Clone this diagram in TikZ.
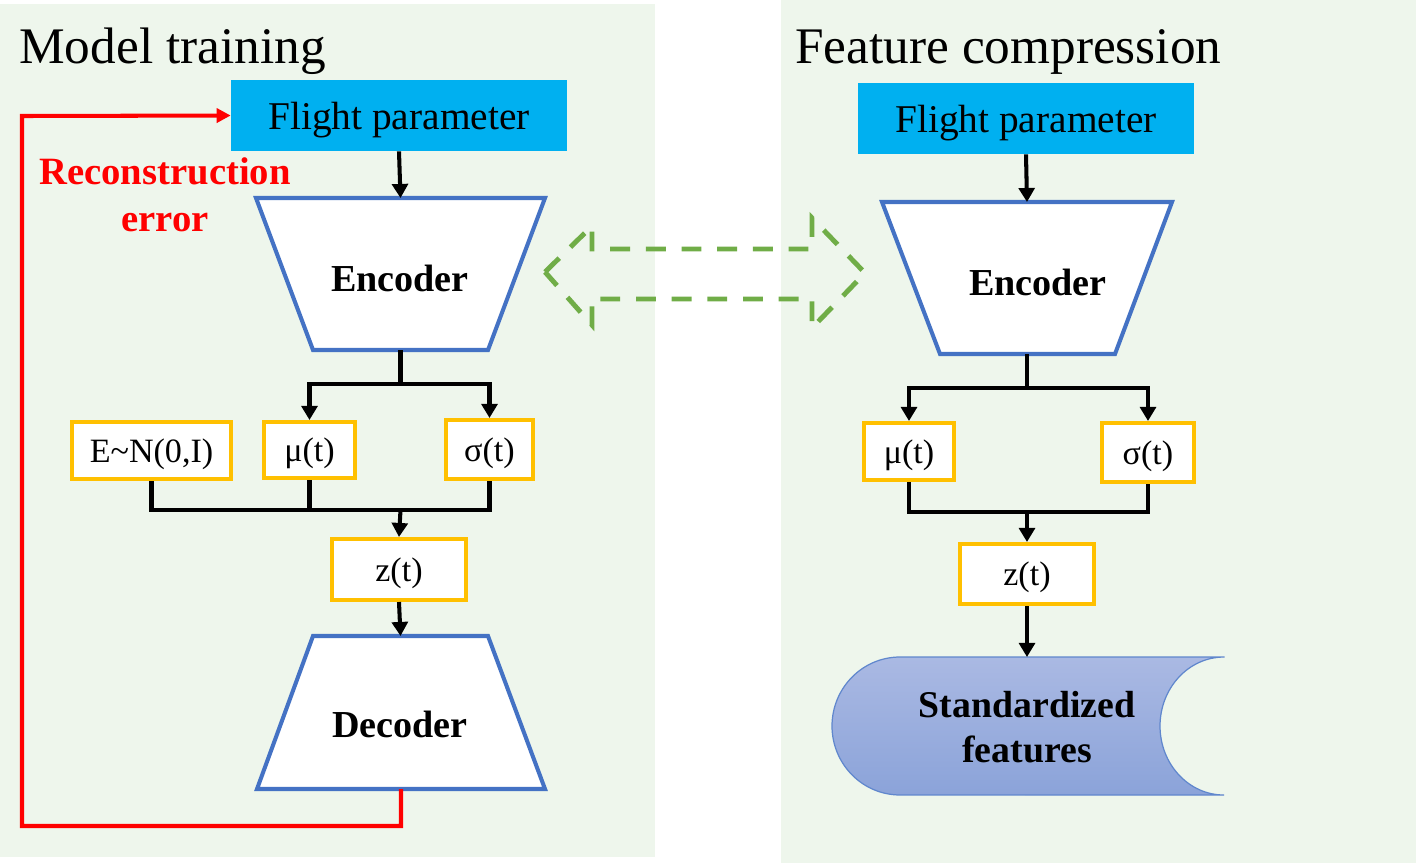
\documentclass[tikz,border=0pt]{standalone}
\usepackage{fontspec}
\setmainfont{Liberation Serif}
\usetikzlibrary{arrows.meta}
\definecolor{bgg}{HTML}{EEF6EC}
\definecolor{fpblue}{HTML}{00B0F0}
\definecolor{encblue}{HTML}{4472C4}
\definecolor{boxor}{HTML}{FFC000}
\definecolor{dgreen}{HTML}{70AD47}
\definecolor{sftop}{HTML}{AAB9E3}
\definecolor{sfbot}{HTML}{8BA3D9}
\begin{document}
\begin{tikzpicture}[x=0.02cm,y=-0.02cm,
  fpbox/.style={fill=fpblue, minimum width=6.72cm, minimum height=1.42cm, inner sep=0pt, text depth=0pt, font=\fontsize{22.4pt}{26pt}\selectfont},
  obox/.style={draw=boxor, line width=2.3pt, fill=white, inner sep=0pt, text depth=0pt, font=\fontsize{19.4pt}{22pt}\selectfont},
  trap/.style={draw=encblue, line width=2.3pt, fill=white},
  traptext/.style={font=\fontsize{21.7pt}{25pt}\selectfont\bfseries},
  conn/.style={line width=2.3pt, black},
  arr/.style={-{Triangle[length=8pt,width=9pt]}},
  title/.style={anchor=base west, inner sep=0pt, font=\fontsize{29.2pt}{34pt}\selectfont}
]
\useasboundingbox (0,0) rectangle (1416,863);
\fill[bgg] (0,4) rectangle (655,857);
\fill[bgg] (781,0) rectangle (1416,863);

% titles
\node[title] (t1) at (19,63) {Model training};
\node[title] (t2) at (795,63) {Feature compression};

% ---------- left ----------
\node[fpbox] (fp1) at (399,115.5) {Flight parameter};
\draw[trap] (256,198) -- (545,198) -- (488,350) -- (313,350) -- cycle;
\coordinate (enc1t) at (400.5,198);
\coordinate (enc1b) at (400.5,350);
\node[traptext] (enc1) at (400,278) {Encoder};

\node[obox, minimum width=3.18cm, minimum height=1.14cm] (E1) at (151.5,450.5) {E\char"007E N(0,I)};
\node[obox, minimum width=1.82cm, minimum height=1.12cm] (mu1) at (309.5,450) {μ(t)};
\node[obox, minimum width=1.74cm, minimum height=1.18cm] (sig1) at (489.5,449.5) {σ(t)};
\node[obox, minimum width=2.68cm, minimum height=1.22cm] (z1) at (399,569.5) {z(t)};

\draw[trap] (313,636) -- (488,636) -- (545,789) -- (257,789) -- cycle;
\coordinate (dec1t) at (400.5,636);
\coordinate (dec1b) at (401,789);
\node[traptext] (dec1) at (400,724) {Decoder};

\draw[conn,arr] (fp1.south) -- (enc1t);
\coordinate (s1) at (400.5,384);
\draw[conn] (enc1b) -- (s1);
\draw[conn,arr] (s1) -| (mu1.north);
\draw[conn,arr] (s1) -| (sig1.north);
\coordinate (j1) at (400.5,510);
\draw[conn] (E1.south) |- (j1) -| (sig1.south);
\draw[conn] (mu1.south) -- (mu1.south |- j1);
\draw[conn,arr] (j1) -- (z1.north);
\draw[conn,arr] (z1.south) -- (dec1t);

\draw[red, line width=2.3pt, -{Triangle[length=8pt,width=8pt]}] (dec1b) -- (401,826) -| (22,116) -- (fp1.west);
\node[red, align=center, font=\fontsize{22pt}{26.6pt}\selectfont\bfseries] (rec) at (165,194.5) {Reconstruction\\error};

% ---------- green dashed double arrow ----------
\draw[dgreen, line width=2.8pt, dash pattern=on 11.3pt off 9pt, line join=miter]
  (545,272) -- (592,226) -- (592,249) -- (812,249) -- (812,218) -- (865,273)
  -- (812,328) -- (812,299) -- (592,299) -- (592,325) -- cycle;

% ---------- right ----------
\node[fpbox] (fp2) at (1026,118.5) {Flight parameter};
\draw[trap] (882,202) -- (1172,202) -- (1115,354) -- (940,354) -- cycle;
\coordinate (enc2t) at (1027,202);
\coordinate (enc2b) at (1027,354);
\node[traptext] (enc2) at (1038,282) {Encoder};

\node[obox, minimum width=1.80cm, minimum height=1.14cm] (mu2) at (909,451.5) {μ(t)};
\node[obox, minimum width=1.84cm, minimum height=1.18cm] (sig2) at (1148,452.5) {σ(t)};
\node[obox, minimum width=2.68cm, minimum height=1.20cm] (z2) at (1027,574) {z(t)};

\draw[conn,arr] (fp2.south) -- (enc2t);
\coordinate (s2) at (1027,388);
\draw[conn] (enc2b) -- (s2);
\draw[conn,arr] (s2) -| (mu2.north);
\draw[conn,arr] (s2) -| (sig2.north);
\coordinate (j2) at (1027,512);
\draw[conn] (mu2.south) |- (j2) -| (sig2.south);
\draw[conn,arr] (j2) -- (z2.north);

\draw[top color=sftop, bottom color=sfbot, draw=encblue!85, line width=0.7pt]
  (1224,657) -- (900,657) arc[start angle=90, end angle=270, x radius=1.36cm, y radius=1.38cm]
  -- (1224,795) arc[start angle=270, end angle=90, x radius=1.28cm, y radius=1.38cm] -- cycle;
\coordinate (sft) at (1027,657);
\node[align=center, font=\fontsize{21.5pt}{26pt}\selectfont\bfseries] (sf) at (1027,727) {Standardized\\features};
\draw[conn,arr] (z2.south) -- (sft);
\end{tikzpicture}
\end{document}
